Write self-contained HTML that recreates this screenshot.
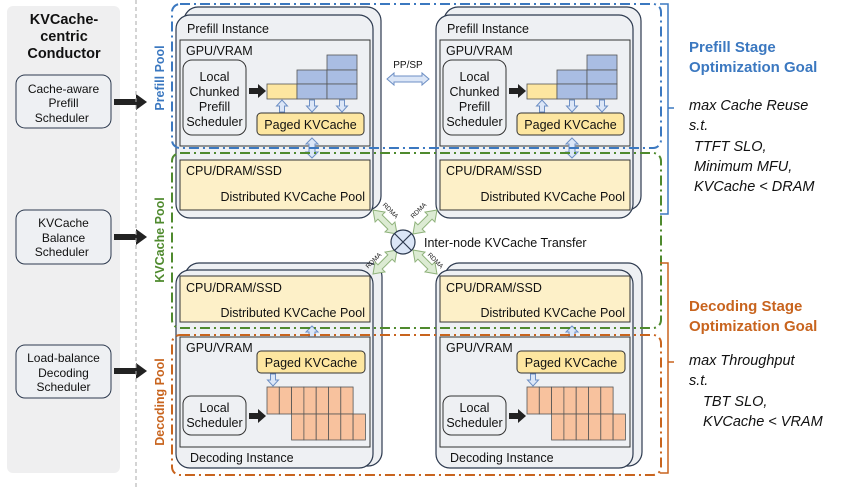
<!DOCTYPE html>
<html><head><meta charset="utf-8"><style>
html,body{margin:0;padding:0;background:#fff}
svg{display:block}
text{font-family:"Liberation Sans",Arial,sans-serif}
</style></head><body>
<svg width="851" height="487" viewBox="0 0 851 487" xmlns="http://www.w3.org/2000/svg">
<defs>
<g id="hollowDown"><path d="M-2.5,0 h5 v6 h3 l-5.5,6 l-5.5,-6 h3 z" fill="#dbe6f7" stroke="#6d8fc4" stroke-width="1"/></g>
<g id="dbl"><path d="M0,0 l6,6 h-3 v8 h3 l-6,6 l-6,-6 h3 v-8 h-3 z" fill="#dbe6f7" stroke="#6d8fc4" stroke-width="1"/></g>
<g id="rdma"><path d="M0,0 l10,-7 v4 h14 v-4 l10,7 l-10,7 v-4 h-14 v4 z" fill="#dcebd3" stroke="#8fb27b" stroke-width="1"/></g>
<g id="blk"><path d="M0,-3 h9 v-4 l8,7 l-8,7 v-4 h-9 z" fill="#222"/></g>
<g id="blkL"><path d="M0,-3 h22 v-5 l11,8 l-11,8 v-5 h-22 z" fill="#222"/></g>

<g id="prefill">
 <rect x="184" y="7" width="197" height="203" rx="14" fill="#eef0f3" stroke="#2d3a4f" stroke-width="1.2"/>
 <rect x="176" y="15" width="197" height="203" rx="14" fill="#eef0f3" stroke="#2d3a4f" stroke-width="1.2"/>
 <text x="187" y="33" font-size="12.5" fill="#111">Prefill Instance</text>
 <rect x="180" y="40" width="190" height="106" fill="#eef0f3" stroke="#333" stroke-width="1"/>
 <text x="186" y="55" font-size="12.5" fill="#111">GPU/VRAM</text>
 <rect x="183" y="60" width="63" height="75" rx="9" fill="#eef0f3" stroke="#333" stroke-width="1"/>
 <text font-size="12.5" fill="#111" text-anchor="middle"><tspan x="214.5" y="81">Local</tspan><tspan x="214.5" y="96">Chunked</tspan><tspan x="214.5" y="111">Prefill</tspan><tspan x="214.5" y="126">Scheduler</tspan></text>
 <use href="#blk" x="249" y="91"/>
 <rect x="267" y="84" width="30" height="15" fill="#fde6a0" stroke="#555" stroke-width="0.8"/>
 <g fill="#a9bde3" stroke="#555" stroke-width="0.8">
  <rect x="297" y="70" width="30" height="14"/><rect x="297" y="84" width="30" height="15"/>
  <rect x="327" y="55" width="30" height="15"/><rect x="327" y="70" width="30" height="14"/><rect x="327" y="84" width="30" height="15"/>
 </g>
 <use href="#hollowDown" x="312" y="100"/>
 <use href="#hollowDown" x="342" y="100"/>
 <use href="#hollowDown" transform="translate(282,112) scale(1,-1)"/>
 <rect x="257" y="113" width="107" height="22" rx="4" fill="#fde6a0" stroke="#333" stroke-width="1"/>
 <text x="310.5" y="129" font-size="12.5" fill="#111" text-anchor="middle">Paged KVCache</text>
 <use href="#dbl" x="312" y="138"/>
 <rect x="180" y="160" width="190" height="50" fill="#fdf0c8" stroke="#333" stroke-width="1"/>
 <text x="186" y="175" font-size="12.5" fill="#111">CPU/DRAM/SSD</text>
 <text x="365" y="201" font-size="12.5" fill="#111" text-anchor="end">Distributed KVCache Pool</text>
</g>

<g id="decode">
 <rect x="185" y="263" width="197" height="203" rx="14" fill="#eef0f3" stroke="#2d3a4f" stroke-width="1.2"/>
 <rect x="176" y="270" width="197" height="198" rx="14" fill="#eef0f3" stroke="#2d3a4f" stroke-width="1.2"/>
 <rect x="180" y="276" width="190" height="46" fill="#fdf0c8" stroke="#333" stroke-width="1"/>
 <text x="186" y="292" font-size="12.5" fill="#111">CPU/DRAM/SSD</text>
 <text x="365" y="317" font-size="12.5" fill="#111" text-anchor="end">Distributed KVCache Pool</text>
 <use href="#dbl" x="312" y="326"/>
 <rect x="180" y="337" width="190" height="110" fill="#eef0f3" stroke="#333" stroke-width="1"/>
 <text x="186" y="352" font-size="12.5" fill="#111">GPU/VRAM</text>
 <rect x="257" y="351" width="108" height="22" rx="4" fill="#fde6a0" stroke="#333" stroke-width="1"/>
 <text x="311" y="367" font-size="12.5" fill="#111" text-anchor="middle">Paged KVCache</text>
 <use href="#hollowDown" x="273" y="374"/>
 <g fill="#f8c29e" stroke="#555" stroke-width="0.8">
  <rect x="267" y="387" width="12.3" height="27"/><rect x="279.3" y="387" width="12.3" height="27"/><rect x="291.6" y="387" width="12.3" height="27"/><rect x="303.9" y="387" width="12.3" height="27"/><rect x="316.2" y="387" width="12.3" height="27"/><rect x="328.5" y="387" width="12.3" height="27"/><rect x="340.8" y="387" width="12.3" height="27"/>
  <rect x="291.6" y="414" width="12.3" height="26"/><rect x="303.9" y="414" width="12.3" height="26"/><rect x="316.2" y="414" width="12.3" height="26"/><rect x="328.5" y="414" width="12.3" height="26"/><rect x="340.8" y="414" width="12.3" height="26"/><rect x="353.1" y="414" width="12.3" height="26"/>
 </g>
 <rect x="183" y="396" width="63" height="39" rx="8" fill="#eef0f3" stroke="#333" stroke-width="1"/>
 <text font-size="12.5" fill="#111" text-anchor="middle"><tspan x="214.5" y="412">Local</tspan><tspan x="214.5" y="427">Scheduler</tspan></text>
 <use href="#blk" x="249" y="416"/>
 <text x="190" y="462" font-size="12.5" fill="#111">Decoding Instance</text>
</g>
</defs>

<!-- left panel -->
<rect x="7" y="6" width="113" height="467" rx="6" fill="#efeff0"/>
<text font-size="14.5" font-weight="bold" fill="#111" text-anchor="middle"><tspan x="64" y="24">KVCache-</tspan><tspan x="64" y="41">centric</tspan><tspan x="64" y="58">Conductor</tspan></text>
<g fill="#eef0f3" stroke="#2d3a4f" stroke-width="1">
<rect x="16" y="75" width="95" height="53" rx="9"/>
<rect x="16" y="210" width="95" height="54" rx="9"/>
<rect x="16" y="345" width="95" height="53" rx="9"/>
</g>
<text font-size="12" fill="#111" text-anchor="middle">
<tspan x="63.5" y="93">Cache-aware</tspan><tspan x="63.5" y="107">Prefill</tspan><tspan x="63.5" y="122">Scheduler</tspan>
<tspan x="63.5" y="227">KVCache</tspan><tspan x="63.5" y="242">Balance</tspan><tspan x="63.5" y="256">Scheduler</tspan>
<tspan x="63.5" y="362">Load-balance</tspan><tspan x="63.5" y="377">Decoding</tspan><tspan x="63.5" y="391">Scheduler</tspan>
</text>
<use href="#blkL" x="114" y="102"/>
<use href="#blkL" x="114" y="237"/>
<use href="#blkL" x="114" y="371"/>
<line x1="136" y1="0" x2="136" y2="487" stroke="#aaa" stroke-width="1" stroke-dasharray="4,3"/>

<!-- pool labels -->
<text transform="translate(164,78) rotate(-90)" font-size="12.5" font-weight="bold" fill="#3b78c0" text-anchor="middle">Prefill Pool</text>
<text transform="translate(164,240) rotate(-90)" font-size="12.5" font-weight="bold" fill="#4f8a2e" text-anchor="middle">KVCache Pool</text>
<text transform="translate(164,402) rotate(-90)" font-size="12.5" font-weight="bold" fill="#c8641e" text-anchor="middle">Decoding Pool</text>

<!-- instances -->
<use href="#prefill"/>
<use href="#prefill" x="260"/>
<use href="#decode"/>
<use href="#decode" x="260"/>

<!-- pools -->
<rect x="172" y="4" width="489" height="144" rx="8" fill="none" stroke="#3b78c0" stroke-width="2" stroke-dasharray="10,4,2,4"/>
<rect x="172" y="153" width="489" height="175" rx="8" fill="none" stroke="#4f8a2e" stroke-width="2" stroke-dasharray="10,4,2,4"/>
<rect x="172" y="335" width="489" height="140" rx="8" fill="none" stroke="#c8641e" stroke-width="2" stroke-dasharray="10,4,2,4"/>

<!-- PP/SP -->
<text x="408" y="68" font-size="10" fill="#111" text-anchor="middle">PP/SP</text>
<path d="M387,79 l7,-6 v3 h28 v-3 l7,6 l-7,6 v-3 h-28 v3 z" fill="#dbe6f7" stroke="#6d8fc4" stroke-width="1"/>

<!-- RDMA -->
<use href="#rdma" transform="translate(373,210) rotate(45)"/>
<use href="#rdma" transform="translate(437,210) rotate(135)"/>
<use href="#rdma" transform="translate(373,274) rotate(-45)"/>
<use href="#rdma" transform="translate(437,274) rotate(-135)"/>
<g font-size="6.5" fill="#222" text-anchor="middle">
<text transform="translate(389,212) rotate(45)">RDMA</text>
<text transform="translate(420,212) rotate(-45)">RDMA</text>
<text transform="translate(375,262) rotate(-45)">RDMA</text>
<text transform="translate(434,262) rotate(45)">RDMA</text>
</g>
<circle cx="403" cy="242" r="12" fill="#dbe6f7" stroke="#2d3a4f" stroke-width="1.2"/>
<path d="M394.5,233.5 L411.5,250.5 M411.5,233.5 L394.5,250.5" stroke="#2d3a4f" stroke-width="1.2"/>
<text x="424" y="247" font-size="12.5" fill="#111">Inter-node KVCache Transfer</text>

<!-- braces -->
<path d="M660,4 h8 v210 h-8 M668,108 h6" fill="none" stroke="#3b78c0" stroke-width="1.5"/>
<path d="M660,263 h8 v210 h-8 M668,362 h6" fill="none" stroke="#c8641e" stroke-width="1.5"/>

<g font-size="15" font-weight="bold" fill="#3b78c0"><text x="689" y="52">Prefill Stage</text><text x="689" y="72">Optimization Goal</text></g>
<g font-size="14.5" font-style="italic" fill="#111">
<text x="689" y="110">max Cache Reuse</text><text x="689" y="130">s.t.</text>
<text x="694" y="151">TTFT SLO,</text><text x="694" y="171">Minimum MFU,</text><text x="694" y="191">KVCache &lt; DRAM</text>
</g>
<g font-size="15" font-weight="bold" fill="#c8641e"><text x="689" y="311">Decoding Stage</text><text x="689" y="331">Optimization Goal</text></g>
<g font-size="14.5" font-style="italic" fill="#111">
<text x="689" y="365">max Throughput</text><text x="689" y="385">s.t.</text>
<text x="703" y="406">TBT SLO,</text><text x="703" y="426">KVCache &lt; VRAM</text>
</g>
</svg>
</body></html>
